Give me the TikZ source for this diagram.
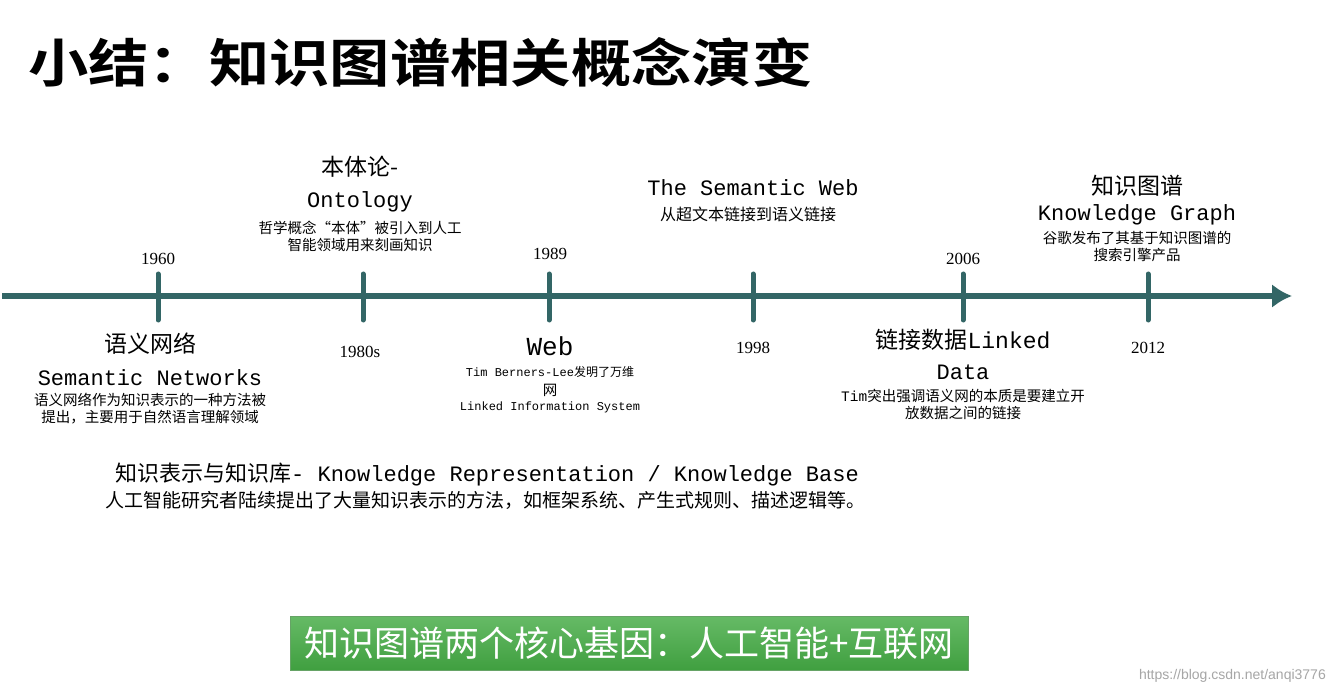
\documentclass[tikz,border=0pt]{standalone}
\usepackage{fontspec}
\usetikzlibrary{arrows.meta}
\setmainfont{Liberation Serif}
\newfontfamily\cjk{Noto Sans CJK SC}
\newfontfamily\cjkb{Noto Sans CJK SC Bold}
\newfontfamily\monof{Liberation Mono}
\newfontfamily\sansf{Liberation Sans}
\begin{document}
\begin{tikzpicture}[x=1pt,y=-1pt,
  axis/.style={line width=6pt,draw=teal!50!black!80,color=teal!50!black!80},
  tick/.style={line width=5pt,draw=teal!50!black!80,line cap=round},
  yr/.style={font=\fontsize{17}{17}\selectfont},
  big/.style={font=\fontsize{23}{23}\cjk,inner sep=0pt},
  lat/.style={font=\fontsize{22}{22}\monof,inner sep=0pt},
  sm/.style={font=\fontsize{14.5}{17}\cjk,align=center,inner sep=0pt},
  smm/.style={font=\fontsize{12}{12}\monof,inner sep=0pt}]
\useasboundingbox (0,0) rectangle (1332,692);
\fill[white] (0,0) rectangle (1332,692);
\node[anchor=west,font=\fontsize{52}{52}\cjkb,inner sep=0pt,xscale=1.16,transform shape] (title) at (28,62) {小结：知识图谱相关概念演变};
\coordinate (a0) at (2,296);
\coordinate (a1) at (1292,296);
\draw[axis,-{Latex[length=20pt,width=24pt]}] (a0) -- (a1);
\foreach \n/\x in {t1/158,t2/363,t3/549,t4/753,t5/963,t6/1148}{
  \coordinate (\n a) at (\x,274); \coordinate (\n b) at (\x,320);
  \draw[tick] (\n a) -- (\n b);}
% 1960
\node[yr] (y1) at (158,259) {1960};
\node[big] (sn1) at (150,344) {语义网络};
\node[lat] (sn2) at (150,378) {Semantic Networks};
\node[sm] (sn3) at (150,409) {语义网络作为知识表示的一种方法被\\提出，主要用于自然语言理解领域};
% 1980s
\node[big] (on1) at (360,167) {本体论-};
\node[lat] (on2) at (360,202) {Ontology};
\node[sm] (on3) at (360,236) {哲学概念“本体”被引入到人工\\智能领域用来刻画知识};
\node[yr] (y2) at (360,352) {1980s};
% 1989
\node[yr] (y3) at (550,254) {1989};
\node[lat,font=\fontsize{26}{26}\monof] (w1) at (550,346) {Web};
\node[smm] (w2) at (550,372) {Tim Berners-Lee{\cjk 发明了万维}};
\node[sm] (w3) at (550,390) {网};
\node[smm] (w4) at (550,407) {Linked Information System};
% 1998
\node[yr] (y4) at (753,348) {1998};
\node[lat] (sw1) at (753,188) {The Semantic Web};
\node[sm,font=\fontsize{16}{16}\cjk] (sw2) at (748,214) {从超文本链接到语义链接};
% 2006
\node[yr] (y5) at (963,259) {2006};
\node[big] (ld1) at (963,340) {链接数据{\monof Linked}};
\node[lat] (ld2) at (963,372) {Data};
\node[sm] (ld3) at (963,404) {{\monof Tim}突出强调语义网的本质是要建立开\\放数据之间的链接};
% 2012
\node[yr] (y6) at (1148,348) {2012};
\node[big] (kg1) at (1137,186) {知识图谱};
\node[lat] (kg2) at (1137,215) {Knowledge Graph};
\node[sm] (kg3) at (1137,247) {谷歌发布了其基于知识图谱的\\搜索引擎产品};
% KR
\node[big,font=\fontsize{22}{22}\cjk] (kr1) at (487,475) {知识表示与知识库{\monof - Knowledge Representation / Knowledge Base}};
\node[sm,font=\fontsize{19}{19}\cjk] (kr2) at (485,500) {人工智能研究者陆续提出了大量知识表示的方法，如框架系统、产生式规则、描述逻辑等。};
% green box
\node[draw=green!40!black!60,line width=1pt,top color=green!55!black!60,bottom color=green!50!black!75,
  minimum width=678pt,minimum height=54pt,text=white,font=\fontsize{35}{35}\cjk] (gb) at (629,643) {知识图谱两个核心基因：人工智能+互联网};
\node[text=gray!70,font=\fontsize{14}{14}\sansf,anchor=east,inner sep=0pt] (wm) at (1326,676) {https://blog.csdn.net/anqi3776};
\end{tikzpicture}
\end{document}
